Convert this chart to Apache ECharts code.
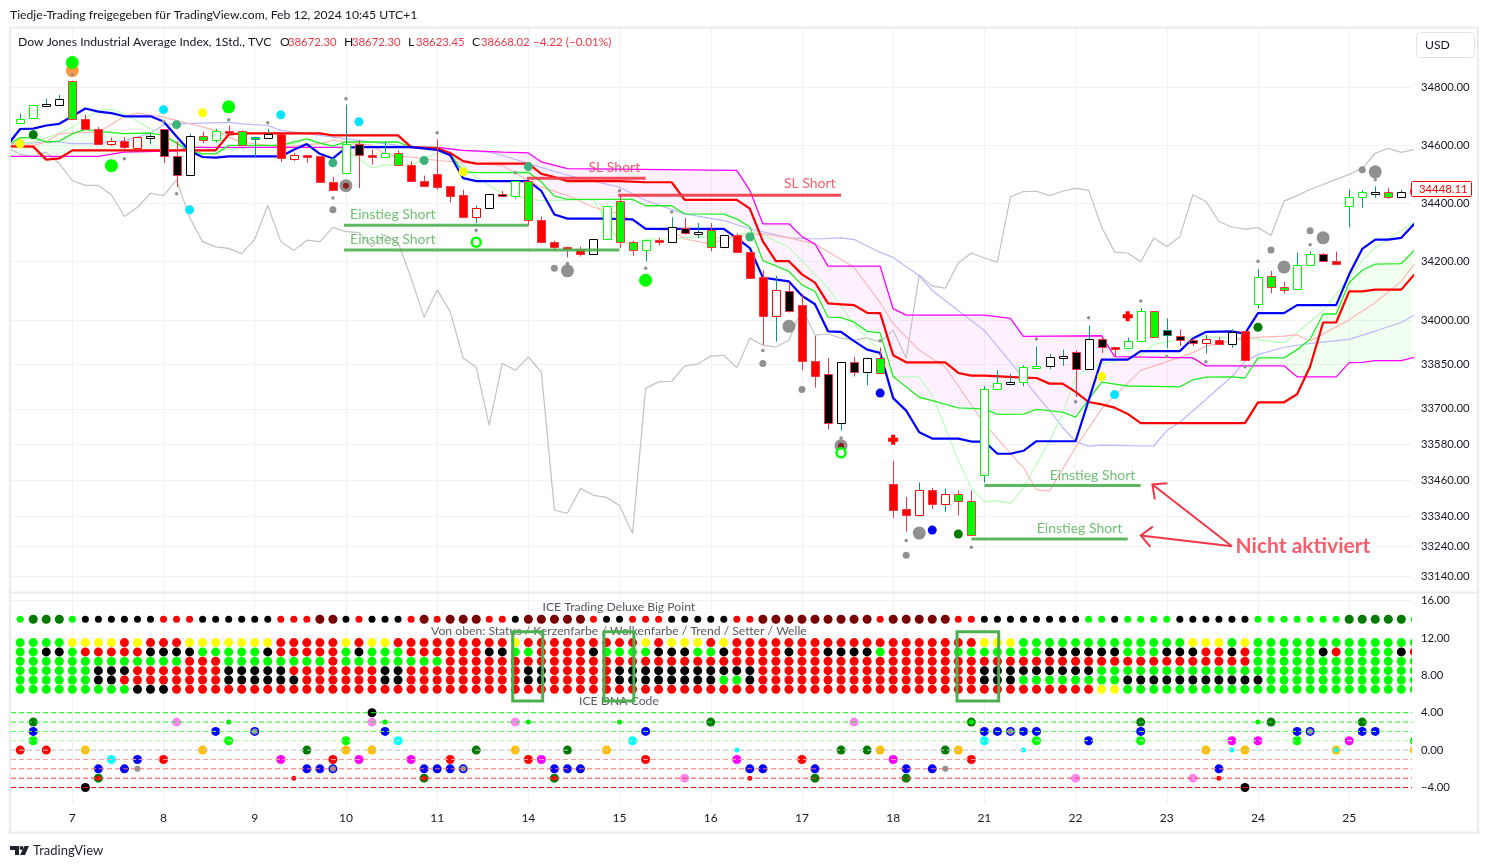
<!DOCTYPE html>
<html lang="en">

<head>
    <meta charset="UTF-8">
    <title>Dow Jones Industrial Average Index, 1Std.</title>
    <script src="https://cdn.jsdelivr.net/npm/echarts@6/dist/echarts.min.js"></script>
    <style>
        html, body { margin: 0; padding: 0; background: #fff; }
        #main { width: 1488px; height: 868px; }
    </style>
</head>

<body>
    <div id="main"></div>
    <script>
        // bar index 0 is the first whole candle, day labels sit on every 7th bar
        const dayTicks = [4, 11, 18, 25, 32, 39, 46, 53, 60, 67, 74, 81, 88, 95, 102];
        const dayLabels = ['7', '8', '9', '10', '11', '14', '15', '16', '17', '18', '21', '22', '23', '24', '25'];
        const priceTicks = [34800, 34600, 34400, 34200, 34000, 33850, 33700, 33580, 33460, 33340, 33240, 33140];
        const lowerTicks = [16, 12, 8, 4, 0, -4];
        const lastPrice = '34448.11';

        const candleOpen = [
            34676, 34695, 34740, 34740, 34821, 34691, 34656, 34615, 34615, 34628,
            34626, 34656, 34562, 34498, 34633, 34617, 34650, 34649, 34622, 34626,
            34638, 34567, 34567, 34563, 34474, 34505, 34603, 34567, 34560, 34573,
            34531, 34476, 34500, 34459, 34427, 34352, 34384, 34432, 34424, 34475,
            34343, 34267, 34250, 34243, 34225, 34277, 34408, 34266, 34239, 34272,
            34267, 34314, 34298, 34307, 34250, 34291, 34232, 34146, 34013, 34100,
            34051, 33863, 33819, 33653, 33858, 33825, 33873, 33447, 33365, 33345,
            33429, 33382, 33415, 33392, 33477, 33768, 33790, 33791, 33842, 33846,
            33875, 33892, 33835, 33936, 33908, 33907, 33928, 34030, 33948, 33947,
            33931, 33923, 33931, 33918, 33962, 34054, 34152, 34112, 34105, 34188,
            34224, 34203, 34391, 34422, 34437, 34438, 34422, 34449];
        const candleClose = [
            34691, 34740, 34742, 34761, 34691, 34656, 34605, 34603, 34593, 34590,
            34633, 34563, 34498, 34633, 34619, 34649, 34648, 34602, 34629, 34640,
            34554, 34553, 34566, 34474, 34446, 34605, 34565, 34560, 34573, 34532,
            34477, 34459, 34456, 34425, 34352, 34384, 34431, 34426, 34476, 34343,
            34267, 34248, 34242, 34224, 34277, 34391, 34267, 34239, 34274, 34268,
            34319, 34298, 34300, 34250, 34291, 34232, 34145, 34013, 34101, 34030,
            33862, 33810, 33653, 33859, 33825, 33873, 33822, 33362, 33345, 33429,
            33382, 33415, 33392, 33277, 33767, 33787, 33792, 33841, 33845, 33875,
            33877, 33835, 33937, 33908, 33906, 33929, 34030, 33942, 33965, 33931,
            33924, 33935, 33918, 33961, 33865, 34148, 34112, 34104, 34188, 34224,
            34201, 34193, 34421, 34438, 34439, 34422, 34438, 34435];
        const candleHigh = [
            34709, 34740, 34761, 34774, 34824, 34706, 34663, 34626, 34628, 34628,
            34640, 34656, 34614, 34640, 34647, 34657, 34668, 34651, 34629, 34657,
            34638, 34573, 34567, 34563, 34490, 34741, 34617, 34584, 34611, 34582,
            34544, 34495, 34620, 34459, 34446, 34392, 34431, 34442, 34479, 34477,
            34354, 34271, 34250, 34251, 34277, 34391, 34427, 34271, 34274, 34281,
            34352, 34349, 34332, 34332, 34291, 34296, 34232, 34170, 34151, 34128,
            34089, 33946, 33871, 33859, 33875, 33873, 33907, 33526, 33404, 33453,
            33435, 33433, 33426, 33426, 33776, 33830, 33818, 33847, 33911, 33886,
            33900, 33898, 33982, 33941, 33909, 33941, 34041, 34030, 34006, 33969,
            33940, 33950, 33943, 33969, 33962, 34174, 34168, 34130, 34230, 34234,
            34229, 34234, 34447, 34444, 34458, 34453, 34446, 34449];
        const candleLow = [
            34676, 34695, 34735, 34740, 34691, 34656, 34605, 34597, 34582, 34590,
            34603, 34538, 34455, 34498, 34607, 34610, 34637, 34602, 34559, 34621,
            34542, 34545, 34539, 34474, 34444, 34505, 34452, 34533, 34560, 34532,
            34477, 34455, 34446, 34403, 34348, 34331, 34384, 34426, 34416, 34323,
            34262, 34239, 34214, 34217, 34225, 34277, 34246, 34220, 34200, 34255,
            34267, 34292, 34280, 34235, 34245, 34228, 34141, 33916, 33927, 34026,
            33831, 33772, 33631, 33627, 33809, 33779, 33822, 33334, 33289, 33345,
            33364, 33354, 33343, 33277, 33452, 33768, 33779, 33776, 33842, 33834,
            33845, 33740, 33835, 33889, 33875, 33907, 33928, 33942, 33904, 33912,
            33912, 33886, 33918, 33906, 33865, 34040, 34091, 34091, 34105, 34188,
            34201, 34189, 34317, 34383, 34418, 34415, 34422, 34435];
        // g hollow green, k hollow black, r red, b black in red, l lime in red, w hollow red, K solid black, t lime in teal
        const candleKinds = 'ggkklrrwrw kbbklgrltk rwrrrgbrgl rrrrrwkbgl rrrrkgllgr kbklkrrrwb rrbkbklrrw rwllggkggk kbkbrgglKb bwrkrgllgg brggklkr'.replace(/ /g, '');

        // lines are [bar index, price] knots
        const blueLine = [[-1, 34599], [0, 34656], [1, 34657], [2, 34668], [3, 34674], [4, 34700], [5, 34727], [6, 34716], [7, 34711], [8, 34700], [10, 34700], [11, 34682], [12, 34630], [13, 34580], [14, 34559], [15, 34557], [16, 34561], [20, 34561], [21, 34584], [22, 34604], [23, 34570], [24, 34554], [25, 34591], [26, 34593], [30, 34593], [32, 34584], [33, 34565], [34, 34486], [35, 34476], [39, 34476], [40, 34442], [41, 34361], [42, 34347], [45, 34347], [47, 34344], [48, 34312], [54, 34312], [55, 34280], [56, 34246], [57, 34145], [59, 34132], [60, 34083], [61, 34054], [62, 33962], [63, 33960], [64, 33929], [65, 33900], [66, 33889], [67, 33736], [68, 33694], [69, 33621], [70, 33600], [72, 33600], [73, 33590], [74, 33590], [75, 33549], [76, 33549], [77, 33559], [78, 33591], [81, 33591], [83, 33866], [85, 33866], [86, 33895], [89, 33895], [90, 33938], [91, 33960], [93, 33962], [94, 33954], [95, 34024], [97, 34024], [98, 34051], [101, 34051], [102, 34156], [103, 34243], [104, 34275], [105, 34275], [106, 34281], [107, 34329]];
        const redLine = [[-1, 34596], [1, 34595], [2, 34550], [3, 34554], [4, 34582], [15, 34582], [16, 34637], [17, 34641], [23, 34641], [24, 34634], [29, 34634], [30, 34593], [32, 34589], [33, 34573], [34, 34545], [35, 34536], [39, 34536], [40, 34501], [41, 34490], [42, 34476], [46, 34476], [48, 34472], [50, 34472], [51, 34411], [55, 34411], [56, 34381], [57, 34269], [58, 34201], [59, 34201], [60, 34156], [61, 34128], [62, 34057], [63, 34054], [64, 34051], [65, 34025], [66, 34024], [67, 33881], [68, 33857], [71, 33857], [72, 33821], [73, 33812], [74, 33812], [77, 33805], [78, 33804], [79, 33785], [80, 33785], [81, 33757], [82, 33723], [83, 33715], [84, 33704], [85, 33683], [86, 33652], [94, 33652], [95, 33722], [97, 33722], [98, 33749], [99, 33843], [100, 33992], [101, 33992], [102, 34098], [103, 34098], [104, 34104], [106, 34104], [107, 34156]];
        const greenLine = [[-1, 34599], [0, 34626], [1, 34626], [2, 34611], [3, 34614], [4, 34640], [5, 34655], [6, 34648], [8, 34640], [10, 34642], [11, 34634], [12, 34607], [13, 34580], [14, 34570], [15, 34570], [16, 34599], [20, 34599], [21, 34611], [22, 34622], [23, 34607], [24, 34597], [25, 34611], [29, 34611], [30, 34592], [32, 34592], [33, 34570], [34, 34508], [35, 34505], [39, 34506], [40, 34473], [41, 34424], [42, 34413], [47, 34413], [48, 34391], [50, 34391], [51, 34363], [54, 34362], [55, 34346], [56, 34318], [57, 34203], [58, 34185], [59, 34166], [60, 34120], [61, 34098], [62, 34010], [63, 34009], [64, 33994], [65, 33962], [66, 33957], [67, 33809], [69, 33739], [70, 33728], [72, 33703], [74, 33700], [75, 33681], [77, 33682], [78, 33698], [80, 33689], [81, 33672], [83, 33790], [85, 33777], [89, 33774], [90, 33798], [91, 33807], [93, 33808], [94, 33804], [94.6, 33845], [95, 33872], [97, 33872], [98, 33900], [99, 33935], [100, 34021], [101, 34021], [102, 34128], [103, 34170], [104, 34191], [106, 34193], [107, 34239]];
        const magentaLine = [[-1, 34561], [6, 34561], [7, 34569], [8, 34576], [12, 34580], [13, 34592], [32, 34592], [34, 34582], [37, 34576], [39, 34573], [40, 34542], [42, 34519], [55, 34513], [56, 34444], [57, 34329], [59, 34329], [60, 34285], [61, 34260], [62, 34184], [66, 34184], [67, 34039], [68, 34017], [74, 34017], [76, 34006], [77, 33945], [83, 33947], [84, 33876], [90, 33872], [91, 33845], [94.6, 33845], [97, 33845], [98, 33808], [101, 33808], [102, 33856], [103, 33857], [104, 33863], [106, 33863], [107, 33874]];
        const paleBlueLine = [[-1, 34605], [3, 34611], [4, 34605], [6, 34605], [8, 34617], [10, 34640], [11, 34671], [12, 34674], [16, 34679], [17, 34674], [19, 34668], [20, 34651], [23, 34634], [25, 34622], [29, 34599], [32, 34591], [33, 34585], [36, 34576], [37, 34565], [39, 34536], [42, 34496], [46, 34455], [48, 34409], [51, 34363], [54, 34340], [56, 34312], [59, 34281], [61, 34277], [63, 34281], [64, 34275], [66, 34231], [67, 34214], [69, 34151], [70, 34101], [72, 34032], [74, 33965], [75, 33911], [76, 33858], [77, 33802], [78, 33746], [79, 33695], [80, 33638], [81, 33591], [82, 33574], [83, 33578], [86, 33575], [87, 33575], [88, 33627], [89, 33655], [93, 33809], [94, 33861], [95, 33883], [97, 33908], [99, 33921], [102, 33935], [104, 33963], [106, 33992], [107, 34017]];
        const paleGreenLine = [[-1, 34599], [1, 34611], [3, 34640], [4, 34663], [6, 34720], [7, 34725], [8, 34709], [10, 34657], [11, 34640], [12, 34611], [14, 34593], [15, 34582], [21, 34605], [22, 34622], [25, 34582], [27, 34522], [28, 34532], [30, 34532], [32, 34573], [33, 34570], [35, 34490], [37, 34432], [39, 34415], [40, 34409], [44, 34412], [45, 34335], [46, 34266], [47, 34260], [48, 34277], [50, 34277], [52, 34285], [54, 34280], [56, 34300], [57, 34292], [59, 34248], [61, 34156], [62, 34110], [64, 33986], [66, 33895], [67, 33809], [69, 33807], [70, 33745], [71, 33638], [72, 33526], [73, 33435], [74, 33388], [75, 33392], [76, 33382], [77, 33435], [78, 33514], [79, 33593], [80, 33683], [81, 33809], [82, 33835], [83, 33852], [86, 33880], [87, 33918], [90, 33943], [91, 33943], [94, 33940], [97, 33923], [98, 33957], [100, 34032], [101, 34089], [102, 34145], [103, 34202], [104, 34248], [106, 34306], [107, 34335]];
        const paleRedLine = [[-1, 34605], [1, 34599], [2, 34611], [3, 34640], [4, 34642], [6, 34645], [8, 34700], [9, 34711], [11, 34697], [12, 34686], [13, 34674], [15, 34651], [16, 34628], [17, 34611], [20, 34593], [23, 34605], [24, 34617], [25, 34611], [27, 34599], [28, 34570], [29, 34561], [30, 34559], [32, 34547], [34, 34540], [37, 34530], [39, 34478], [40, 34455], [42, 34427], [44, 34386], [46, 34363], [47, 34340], [48, 34312], [50, 34306], [51, 34277], [53, 34260], [54, 34277], [56, 34294], [57, 34294], [59, 34281], [61, 34260], [64, 34180], [66, 34060], [67, 33988], [69, 33898], [71, 33841], [74, 33649], [77, 33502], [78, 33429], [79, 33424], [81, 33570], [83, 33700], [86, 33830], [90, 33889], [91, 33912], [94, 33940], [97, 33946], [98, 33950], [99, 33929], [102, 34001], [104, 34060], [106, 34133], [107, 34191]];
        const greyValues = [34593, 34568, 34561, 34576, 34536, 34478, 34461, 34461, 34429, 34354, 34386, 34434, 34426, 34480, 34351, 34268, 34250, 34245, 34227, 34276, 34392, 34268, 34238, 34273, 34268, 34317, 34302, 34299, 34250, 34291, 34265, 34144, 34011, 34103, 34029, 33871, 33841, 33644, 33854, 33830, 33875, 33824, 33360, 33350, 33433, 33410, 33403, 33376, 33283, 33769, 33791, 33793, 33845, 33851, 33878, 33881, 33838, 33939, 33915, 33909, 33932, 34041, 33949, 33953, 33939, 33932, 33940, 33926, 33966, 33871, 34154, 34116, 34109, 34195, 34229, 34212, 34198, 34421, 34440, 34441, 34426, 34441, 34451, 34444, 34318, 34232, 34229, 34199, 34280, 34251, 34285, 34429, 34406, 34337, 34318, 34311, 34316, 34289, 34407, 34426, 34447, 34464, 34482, 34499, 34520, 34572, 34589, 34575, 34585];

        // drawn levels and the arrows: [from bar, to bar, price] and [bar, price, bar, price]
        const entryLevels = [[24.85, 39, 34324], [24.85, 46, 34239], [74, 86, 33443], [73, 85, 33264]];
        const stopLevels = [[38.9, 48, 34486], [45.9, 63, 34427]];
        const arrowLegs = [[93, 33240, 86.9, 33446], [93, 33240, 86, 33276]];
        const entryNotes = [[28.6, 34362], [28.6, 34276], [82.3, 33477], [81.3, 33300]];
        const stopNotes = [[45.6, 34523], [60.6, 34468]];
        const inactiveNote = [[98.45, 33240]];

        // signal dots in the price panel, [bar index, price]
        const dotsLime = [[4, 34887], [7, 34529], [16, 34733], [48, 34136]];
        const dotsOrange = [[4, 34859]];
        const dotsDarkGreen = [[1, 34636], [72, 33281], [95, 33976]];
        const dotsYellow = [[0, 34605], [14, 34712], [34, 34508], [83, 33809]];
        const dotsCyan = [[11, 34723], [13, 34377], [20, 34705], [26, 34681], [84, 33748]];
        const dotsSea = [[12, 34671], [24, 34539], [31, 34547], [39, 34526], [56, 34284]];
        const dotsBlue = [[66, 33753], [70, 33294]];
        const dotsGreyBig = [[25, 34460], [42, 34168], [59, 33979], [63, 33576], [69, 33284], [97, 34181], [100, 34281], [104, 34508]];
        const dotsGreyMid = [[24, 34377], [41, 34177], [57, 33853], [60, 33765], [68, 33210], [96, 34239], [99, 34305], [103, 34515]];
        const dotsGreySmall = [[4, 34844], [8, 34553], [11, 34683], [12, 34432], [16, 34688], [19, 34678], [24, 34418], [25, 34761], [32, 34643], [35, 34307], [38, 34505], [42, 34193], [46, 34443], [48, 34177], [50, 34370], [57, 33897], [63, 33602], [66, 33930], [68, 33259], [73, 33237], [78, 33936], [81, 33724], [82, 34008], [86, 34065], [88, 33877], [91, 33859], [94, 33842], [95, 34201], [99, 34257], [104, 34481]];
        const dotsDarkRed = [[25, 34460], [63, 33576]];
        const dotsRing = [[35, 34266], [63, 33552]];
        const dotsCross = [[67, 33596], [85, 34013]];

        // ICE rows, one letter per bar, groups of ten
        const rowCodes = {
            top: 'LDDDLKKKKK KRRRKKKKKK RRRMMKRKKK RMRMMMRRKM MMMMRKKRRR KKKKKRRMMM MMMMMMRMMM MMRRKKKKKK KKLLKLLLLK KKKKKLLLLL LLDDDDDL',
            r115: 'LLLLYYYYRY RRRYYYYYYY RRRRRYRYYR RRRRRRRRYR RRRRRRRRYR YYYRYRRRRR RRRRRRRRRR RRRRYYYLLL LLLLLLLLLL YYYLYLLLLL LLLLLLLL',
            r105: 'LLKKLRRRRR KKKKLLLLLK RRRRRLKLLL RRRRRRKKLL RRRRKLLLLK KKLLKRRRRK RRKKKKLRRR RRLLLLLLLK KKKKKLLLKK KRRKRLLLLL KRLLLLKR',
            r95: 'LLLLLLLLLL LLLRRRLLLL LLLLRLLLLL LLLRRRRRRR RRRRRRRRRR RRRRRRRRRR RRRRRRRRRR RRRRRRRRRR RRRRRRRRRR RRRRRLLLLL LLLLLLLL',
            r85: 'LLLLLLKKKR RRRRRRKKKK KRRRRRRRKK RRRRRRRRRK KRRRRRKKKK KKKKKKKRRR RRRRRRRRRR RRRRKKKKKK KKKLLLLLLL LLLLLLLLLL LLLLLLLL',
            r75: 'LLLLLLKKRR RRRRRRKKKK KKRRRRRRKK RRRRRRRRRK KRRRRRKKKK KKKKLLKRRR RRRRRRRRRR RRRRKKKLLL LLLLLKKKKK KKKKKKLLLL LLLLLLLL',
            r65: 'LLLLLLLLLK KKRRRRRRRR RRRRRRRRRR RRRRRRRRRR RRRRRRRRRR RRRRRRRRRR RRRRRRRRRR RRRRRRRRRR RRRYYLLLLL LLLLLLLLLL LLLLLLLL'
        };
        const rowValues = { top: 14, r115: 11.5, r105: 10.5, r95: 9.5, r85: 8.5, r75: 7.5, r65: 6.5 };

        // DNA code dots, [bar index, level]
        const dnaLevels = [4, 3, 2, 1, 0, -1, -2, -3, -4];
        const dnaBlue = [[1, 2], [6, -2], [8, -2], [9, -1], [15, 2], [18, 2], [22, -2], [23, -2], [24, -2], [28, 2], [31, -2], [32, -2], [33, -2], [34, -2], [41, -2], [42, -2], [43, -2], [48, 2], [56, -2], [57, -2], [61, -2], [68, -2], [70, -2], [74, 2], [75, 2], [76, 2], [77, 2], [78, 2], [82, 1], [86, 2], [92, -2], [98, 2], [99, 2], [103, 2], [104, 2]];
        const dnaGrey = [[9, -2], [18, 2], [24, -2], [34, -2], [71, -2], [76, 2], [99, 2]];
        const dnaRed = [[0, 0], [2, 0], [11, -1], [24, -1], [33, -1], [39, -1], [48, -1], [60, -1], [73, -1]];
        const dnaRedSmall = [[6, -3], [21, -3], [31, -3], [41, -3], [56, -3], [92, -3]];
        const dnaOrange = [[5, 0], [14, 0], [25, 0], [27, 0], [38, 0], [45, 0], [66, 0], [72, 0], [91, 0], [94, 0], [101, 0], [107, 0]];
        const dnaDarkGreen = [[1, 3], [6, -3], [22, 0], [31, -3], [35, 0], [41, -3], [42, 0], [53, 3], [61, -3], [63, 0], [65, 0], [68, -3], [71, 0], [73, 3], [86, 3], [96, 3], [103, 3]];
        const dnaLime = [[1, 1], [16, 1], [25, 1], [78, 1], [86, 1], [98, 1], [107, 1]];
        const dnaLimeSmall = [[16, 3], [28, 3], [39, 3], [46, 3], [73, 3], [95, 3]];
        const dnaCyan = [[7, -1], [29, 1], [47, 1], [74, 1]];
        const dnaCyanSmall = [[55, 0], [77, 0], [93, 0], [101, 0]];
        const dnaMagenta = [[20, -1], [26, -1], [30, -1], [40, -1], [55, -1], [67, -1], [93, 1], [95, 1], [102, 1]];
        const dnaPink = [[12, 3], [27, 3], [38, 3], [51, -3], [64, 3], [81, -3], [90, -3]];
        const dnaBlack = [[5, -4], [27, 4], [94, -4]];

        // the three boxes over the rows: [from bar, to bar, top, bottom]
        const signalBoxes = [[37.8, 40.1, 12.66, 5.25], [44.8, 47.1, 12.66, 5.25], [71.9, 75.1, 12.66, 5.25]];
        const panelNotes = [['ICE Trading Deluxe Big Point', 45.95, 15.3], ['Von oben: Status / Kerzenfarbe / Wolkenfarbe / Trend / Setter / Welle', 45.95, 12.74], ['ICE DNA Code', 45.95, 5.25]];

        const FONT = 'Lato, "Noto Sans", sans-serif';
        const GRID_LINE = '#f0f2f6';
        const TEXT = '#131722';
        const RED = '#f23645';
        const TEAL = '#089981';
        const NUMBER_SIZE = 11.3;
        const xMin = -0.706;
        const xMax = 106.82;

        const kindStyle = {
            g: ['#ffffff', '#00ff00'], k: ['#ffffff', '#000000'], r: ['#ff0000', RED], b: ['#000000', RED],
            l: ['#00ff00', RED], w: ['#ffffff', '#ff0000'], K: ['#000000', TEAL], t: ['#00ff00', TEAL]
        };
        const rowColor = { L: '#00ff00', D: '#007a00', K: '#000000', R: '#ff0000', M: '#7a0000', Y: '#ffff00' };
        const levelColor = { 4: '#00ff00', 3: '#22ee22', 2: '#55ff55', 1: '#aaffaa', 0: '#c4c4c4', '-1': '#ff9a9a', '-2': '#ff6a6a', '-3': '#ff3a3a', '-4': '#ff0000' };

        const chart = echarts.init(document.getElementById('main'), null, { renderer: 'canvas' });

        const candleRows = candleOpen.map((o, i) => [i, o, candleClose[i], candleHigh[i], candleLow[i]]);

        function drawCandle(params, api) {
            const x = api.value(0);
            const o = api.coord([x, api.value(1)]);
            const c = api.coord([x, api.value(2)]);
            const h = api.coord([x, api.value(3)]);
            const l = api.coord([x, api.value(4)]);
            const style = kindStyle[candleKinds[params.dataIndex]];
            const px = Math.round(o[0]) + 0.5;
            const top = Math.round(Math.min(o[1], c[1])) + 0.5;
            const bot = Math.max(Math.round(Math.max(o[1], c[1])) + 0.5, top + 2);
            const wick = api.value(2) >= api.value(1) ? TEAL : RED;
            return {
                type: 'group',
                children: [
                    { type: 'line', shape: { x1: px, y1: h[1], x2: px, y2: l[1] }, style: { stroke: wick, lineWidth: 1 } },
                    { type: 'rect', shape: { x: px - 4, y: top, width: 8, height: bot - top }, style: { fill: style[0], stroke: style[1], lineWidth: 1 } }
                ]
            };
        }

        function polygonBetween(upper, lower, from, to, fill) {
            return function (params, api) {
                const top = upper.filter(p => p[0] >= from && p[0] <= to);
                const bottom = lower.filter(p => p[0] >= from && p[0] <= to).reverse();
                return {
                    type: 'polygon',
                    shape: { points: top.concat(bottom).map(p => api.coord(p)) },
                    style: { fill: fill, stroke: null }
                };
            };
        }

        function lineSeries(name, data, color, width, z) {
            return { name: name, type: 'line', data: data, symbol: 'none', smooth: false, z: z, silent: true, lineStyle: { color: color, width: width } };
        }

        function dotSeries(name, data, color, size, z, extra) {
            return Object.assign({
                name: name, type: 'scatter', data: data, symbol: 'circle', symbolSize: size, z: z, silent: true,
                itemStyle: { color: color, opacity: 1 }, clip: false
            }, extra || {});
        }

        // the lower panel dots are custom circles so that the right edge cuts them off
        function lowerDots(name, data, colorOf, sizeOf, z) {
            return {
                name: name, type: 'custom', xAxisIndex: 1, yAxisIndex: 1, data: data, z: z, silent: true, clip: true,
                renderItem: function (params, api) {
                    const p = api.coord([api.value(0), api.value(1)]);
                    return { type: 'circle', shape: { cx: p[0], cy: p[1], r: sizeOf(params.dataIndex) / 2 }, style: { fill: colorOf(params.dataIndex) } };
                }
            };
        }

        function dnaSeries(name, data, color, size, z) {
            return lowerDots(name, data, () => color, () => size, z);
        }

        function noteSeries(name, data, text, color, size, weight) {
            return {
                name: name, type: 'scatter', data: data, symbolSize: 0, z: 20, silent: true,
                label: { show: true, position: 'inside', formatter: text, color: color, fontSize: size, fontWeight: weight, fontFamily: FONT }
            };
        }

        function levelSeries(name, data, color) {
            return {
                name: name, type: 'custom', data: data, z: 18, silent: true, clip: true,
                renderItem: function (params, api) {
                    const a = api.coord([api.value(0), api.value(2)]);
                    const b = api.coord([api.value(1), api.value(2)]);
                    return { type: 'line', shape: { x1: a[0], y1: a[1], x2: b[0], y2: b[1] }, style: { stroke: color, lineWidth: 3, opacity: 0.9 } };
                }
            };
        }

        const rowDotSeries = Object.keys(rowCodes).map(function (key) {
            const letters = rowCodes[key].replace(/ /g, '');
            const isTop = key === 'top';
            const data = letters.split('').map((code, i) => [i, rowValues[key]]);
            return lowerDots('ICE ' + key, data,
                i => rowColor[letters[i]],
                i => (isTop ? ('DM'.includes(letters[i]) ? 9 : 7) : 9), 3);
        });

        const dnaLevelSeries = dnaLevels.map(function (level) {
            return {
                name: 'level ' + level, type: 'line', xAxisIndex: 1, yAxisIndex: 1, symbol: 'none', z: 6, silent: true,
                data: [[xMin, level], [xMax, level]],
                lineStyle: { color: levelColor[level], width: 1, type: [5, 3] }
            };
        });

        function headerText(x, y, text, color, size) {
            return { type: 'text', x: x, y: y, z: 52, silent: true, style: { text: text, font: (size || 12.2) + 'px ' + FONT, fill: color, textVerticalAlign: 'middle' } };
        }

        const option = {
            animation: false,
            backgroundColor: '#ffffff',
            textStyle: { fontFamily: FONT },
            grid: [
                { left: 11, right: 76, top: 28, height: 564 },
                { left: 11, right: 76, top: 593, height: 212 }
            ],
            xAxis: [0, 1].map(function (g) {
                return {
                    type: 'value', gridIndex: g, min: xMin, max: xMax,
                    axisLine: { show: false },
                    axisTick: { show: false, customValues: dayTicks },
                    splitLine: { show: true, lineStyle: { color: GRID_LINE, width: 1 } },
                    axisLabel: {
                        show: g === 1, customValues: dayTicks, margin: 7, color: TEXT, fontSize: 12, fontFamily: FONT,
                        formatter: v => dayLabels[dayTicks.indexOf(v)]
                    }
                };
            }),
            yAxis: [
                {
                    type: 'log', logBase: 10, gridIndex: 0, position: 'right',
                    min: 34800 * Math.exp(-(592 - 87.5) / 10004), max: 34800 * Math.exp((87.5 - 28) / 10004),
                    axisLine: { show: false },
                    axisTick: { show: false, customValues: priceTicks },
                    splitLine: { show: true, lineStyle: { color: GRID_LINE, width: 1 } },
                    axisLabel: {
                        customValues: priceTicks, margin: 9, color: TEXT, fontSize: NUMBER_SIZE, fontFamily: FONT,
                        formatter: v => Number(v).toFixed(2)
                    }
                },
                {
                    type: 'value', gridIndex: 1, position: 'right', min: -5.87, max: 16.802,
                    axisLine: { show: false },
                    axisTick: { show: false, customValues: lowerTicks },
                    splitLine: { show: true, lineStyle: { color: GRID_LINE, width: 1 } },
                    axisLabel: {
                        customValues: lowerTicks, margin: 9, color: TEXT, fontSize: NUMBER_SIZE, fontFamily: FONT,
                        formatter: v => (v < 0 ? '\u2212' : '') + Math.abs(v).toFixed(2)
                    }
                }
            ],
            series: [
                lineSeries('lagging', greyValues.map((v, i) => [i - 1, v]), '#c2c2c2', 1.2, 2),
                { name: 'cloud up', type: 'custom', data: [0], z: 2, silent: true, clip: true, renderItem: polygonBetween(magentaLine, greenLine, 30, 94.6, 'rgba(255,0,255,0.055)') },
                { name: 'cloud down', type: 'custom', data: [0], z: 2, silent: true, clip: true, renderItem: polygonBetween(greenLine, magentaLine, -1, 30, 'rgba(0,255,0,0.055)') },
                { name: 'cloud down 2', type: 'custom', data: [0], z: 2, silent: true, clip: true, renderItem: polygonBetween(greenLine, magentaLine, 94.6, 107, 'rgba(0,255,0,0.055)') },
                lineSeries('pale blue', paleBlueLine, '#b9b9ff', 1.2, 3),
                lineSeries('pale green', paleGreenLine, '#b6ffb6', 1.2, 3),
                lineSeries('pale red', paleRedLine, '#ffb6b6', 1.2, 3),
                lineSeries('magenta', magentaLine, '#ff00ff', 1.3, 4),
                lineSeries('green', greenLine, '#22ee22', 1.3, 4),
                lineSeries('red', redLine, '#ff0000', 2.2, 5),
                lineSeries('blue', blueLine, '#0000ff', 2.2, 5),
                { name: 'candles', type: 'custom', data: candleRows, encode: { x: 0, y: [1, 2, 3, 4] }, z: 7, silent: true, clip: true, renderItem: drawCandle },
                levelSeries('entry levels', entryLevels, '#4caf50'),
                levelSeries('stop levels', stopLevels, RED),
                {
                    name: 'arrows', type: 'custom', data: arrowLegs, z: 19, silent: true, clip: true,
                    renderItem: function (params, api) {
                        const a = api.coord([api.value(0), api.value(1)]);
                        const b = api.coord([api.value(2), api.value(3)]);
                        const angle = Math.atan2(a[1] - b[1], a[0] - b[0]);
                        const arm = d => [b[0] + 15 * Math.cos(angle + d), b[1] + 15 * Math.sin(angle + d)];
                        const lineStyle = { stroke: RED, lineWidth: 2, fill: null };
                        return {
                            type: 'group',
                            children: [
                                { type: 'polyline', shape: { points: [a, b] }, style: lineStyle },
                                { type: 'polyline', shape: { points: [arm(0.75), b, arm(-0.75)] }, style: lineStyle }
                            ]
                        };
                    }
                },
                noteSeries('entry notes', entryNotes, 'Einstieg Short', '#4caf50', 14, 'normal'),
                noteSeries('stop notes', stopNotes, 'SL Short', RED, 14, 'normal'),
                noteSeries('inactive note', inactiveNote, 'Nicht aktiviert', RED, 21, 'bold'),

                dotSeries('orange', dotsOrange, '#ff9a3c', 13, 8),
                dotSeries('lime', dotsLime, '#00ff00', 13, 9),
                dotSeries('dark green', dotsDarkGreen, '#007a00', 9, 9),
                dotSeries('yellow', dotsYellow, '#ffff00', 9, 9),
                dotSeries('cyan', dotsCyan, '#00e5ff', 9, 9),
                dotSeries('sea', dotsSea, '#3cb37a', 9, 9),
                dotSeries('blue dots', dotsBlue, '#0000ff', 9, 9),
                dotSeries('grey big', dotsGreyBig, '#909090', 13, 8),
                dotSeries('grey mid', dotsGreyMid, '#909090', 7, 8),
                dotSeries('grey small', dotsGreySmall, '#909090', 3.5, 8),
                dotSeries('dark red', dotsDarkRed, '#8b2020', 6, 9),
                dotSeries('ring', dotsRing, '#ffffff', 9, 10, { itemStyle: { color: '#ffffff', borderColor: '#00ff00', borderWidth: 2.5, opacity: 1 } }),
                dotSeries('cross', dotsCross, '#ff0000', 10, 10, { symbol: 'path://M3 0h4v3h3v4H7v3H3V7H0V3h3z' }),

                ...rowDotSeries,
                dnaSeries('dna red', dnaRed, '#ff0000', 9, 3),
                dnaSeries('dna orange', dnaOrange, '#ffc000', 9, 3),
                dnaSeries('dna dark green', dnaDarkGreen, '#007a00', 9, 3),
                dnaSeries('dna lime', dnaLime, '#00ff00', 9, 3),
                dnaSeries('dna cyan', dnaCyan, '#00ffff', 9, 3),
                dnaSeries('dna magenta', dnaMagenta, '#ff00ff', 9, 3),
                dnaSeries('dna pink', dnaPink, '#ff88ee', 9, 3),
                dnaSeries('dna black', dnaBlack, '#000000', 9, 3),
                dnaSeries('dna blue', dnaBlue, '#0000ff', 9, 3),
                dnaSeries('dna grey', dnaGrey, '#909090', 6, 4),
                dnaSeries('dna red small', dnaRedSmall, '#ff0000', 5, 4),
                dnaSeries('dna lime small', dnaLimeSmall, '#00ee00', 5, 4),
                dnaSeries('dna cyan small', dnaCyanSmall, '#00ffff', 5, 4),
                ...dnaLevelSeries,
                {
                    name: 'panel notes', type: 'scatter', xAxisIndex: 1, yAxisIndex: 1, symbolSize: 0, z: 7, silent: true,
                    data: panelNotes.map(n => ({ name: n[0], value: [n[1], n[2]] })),
                    label: { show: true, position: 'inside', formatter: '{b}', color: '#2a2e39', fontSize: 12.2, fontFamily: FONT }
                },
                {
                    name: 'signal boxes', type: 'custom', xAxisIndex: 1, yAxisIndex: 1, data: signalBoxes, z: 9, silent: true,
                    renderItem: function (params, api) {
                        const a = api.coord([api.value(0), api.value(2)]);
                        const b = api.coord([api.value(1), api.value(3)]);
                        return { type: 'rect', shape: { x: a[0], y: a[1], width: b[0] - a[0], height: b[1] - a[1] }, style: { fill: null, stroke: '#4caf50', lineWidth: 3 } };
                    }
                }
            ],
            graphic: [
                { type: 'rect', shape: { x: 10, y: 27.5, width: 1468, height: 805 }, style: { fill: null, stroke: '#e9ebf0', lineWidth: 2 }, z: 50, silent: true },
                { type: 'line', shape: { x1: 10, y1: 592.5, x2: 1478, y2: 592.5 }, style: { stroke: '#e9ebf0', lineWidth: 2 }, z: 50, silent: true },
                headerText(10, 15, 'Tiedje-Trading freigegeben f\u00fcr TradingView.com, Feb 12, 2024 10:45 UTC+1', TEXT),
                headerText(18, 42, 'Dow Jones Industrial Average Index, 1Std., TVC', TEXT),
                headerText(280, 42, 'O', TEXT), headerText(288, 42, '38672.30', RED, NUMBER_SIZE),
                headerText(344, 42, 'H', TEXT), headerText(352, 42, '38672.30', RED, NUMBER_SIZE),
                headerText(408, 42, 'L', TEXT), headerText(416, 42, '38623.45', RED, NUMBER_SIZE),
                headerText(472, 42, 'C', TEXT), headerText(481, 42, '38668.02', RED, NUMBER_SIZE),
                headerText(533, 42, '\u22124.22 (\u22120.01%)', RED, NUMBER_SIZE + 0.4),
                { type: 'rect', shape: { x: 1416.5, y: 32.5, width: 58, height: 25, r: 4 }, style: { fill: '#fff', stroke: '#e0e3eb', lineWidth: 1 }, z: 51, silent: true },
                headerText(1425, 45, 'USD', TEXT),
                { type: 'rect', shape: { x: 1411.5, y: 181.5, width: 60, height: 15, r: 1 }, style: { fill: '#fff', stroke: '#ff0000', lineWidth: 1 }, z: 51, silent: true },
                headerText(1419, 189, lastPrice, '#ff0000', NUMBER_SIZE),
                { type: 'polygon', shape: { points: [[10, 846], [19, 846], [19, 855], [15, 855], [15, 850], [10, 850]] }, style: { fill: '#1e222d' }, z: 51, silent: true },
                { type: 'circle', shape: { cx: 21.5, cy: 848, r: 2 }, style: { fill: '#1e222d' }, z: 51, silent: true },
                { type: 'polygon', shape: { points: [[24.5, 846], [29, 846], [25, 855], [20, 855]] }, style: { fill: '#1e222d' }, z: 51, silent: true },
                { type: 'text', x: 33, y: 851, style: { text: 'TradingView', font: '13px ' + FONT, fill: '#1e222d', textVerticalAlign: 'middle' }, z: 51, silent: true }
            ]
        };

        chart.setOption(option);
    </script>
</body>

</html>
